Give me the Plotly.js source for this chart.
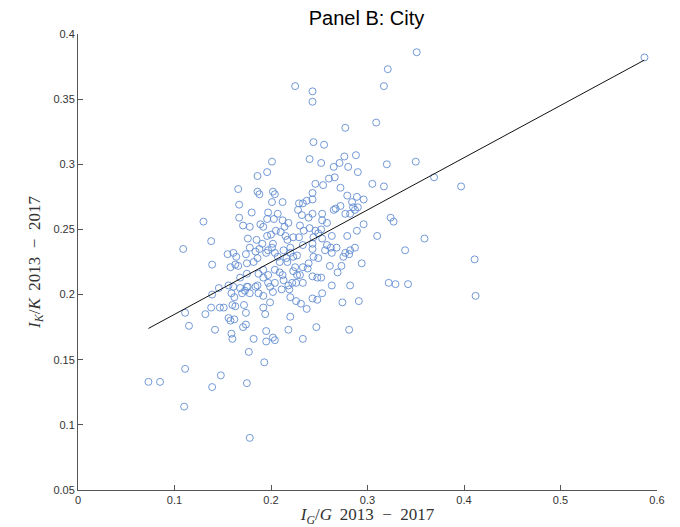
<!DOCTYPE html>
<html>
<head>
<meta charset="utf-8">
<script src="https://cdn.plot.ly/plotly-3.0.1.min.js"></script>
<style>html,body{margin:0;padding:0;background:#fff;}#chart{width:680px;height:527px;}</style>
</head>
<body>
<div id="chart"></div>
<script>
// I_G / G 2013-2017 (x) and I_K / K 2013-2017 (y), one entry per city
const igG = [
0.587,0.351,0.321,0.317,0.225,0.243,0.243,0.309,0.277,0.244,0.255,0.276,0.288,0.240,0.252,0.265,0.271,0.280,0.290,0.320,
0.350,0.201,0.196,0.186,0.369,0.397,0.317,0.305,0.246,0.254,0.260,0.266,0.272,0.166,0.186,0.188,0.202,0.204,0.201,0.212,
0.229,0.233,0.237,0.243,0.243,0.167,0.279,0.289,0.296,0.284,0.267,0.272,0.285,0.290,0.253,0.265,0.277,0.282,0.287,0.324,
0.327,0.296,0.180,0.167,0.171,0.178,0.189,0.192,0.196,0.207,0.212,0.218,0.197,0.228,0.232,0.239,0.243,0.253,0.258,0.130,
0.138,0.109,0.205,0.210,0.230,0.240,0.246,0.249,0.263,0.279,0.289,0.310,0.359,0.196,0.202,0.217,0.223,0.213,0.233,0.243,
0.253,0.258,0.268,0.287,0.176,0.185,0.178,0.184,0.191,0.195,0.155,0.161,0.164,0.174,0.197,0.201,0.204,0.220,0.227,0.243,
0.244,0.256,0.262,0.263,0.277,0.282,0.339,0.411,0.281,0.294,0.275,0.203,0.214,0.188,0.207,0.200,0.215,0.229,0.234,0.244,
0.252,0.249,0.220,0.216,0.186,0.175,0.166,0.158,0.139,0.163,0.168,0.175,0.182,0.187,0.192,0.197,0.209,0.217,0.223,0.273,
0.269,0.261,0.239,0.233,0.225,0.223,0.227,0.230,0.222,0.226,0.212,0.209,0.204,0.192,0.197,0.199,0.204,0.202,0.156,0.161,
0.173,0.176,0.186,0.187,0.213,0.218,0.233,0.238,0.243,0.248,0.252,0.253,0.263,0.274,0.282,0.322,0.329,0.342,0.291,0.412,
0.281,0.139,0.146,0.159,0.162,0.168,0.170,0.175,0.178,0.184,0.192,0.172,0.192,0.194,0.199,0.219,0.220,0.226,0.231,0.237,
0.243,0.248,0.211,0.111,0.115,0.132,0.138,0.147,0.151,0.160,0.156,0.162,0.174,0.174,0.220,0.218,0.247,0.142,0.159,0.160,
0.171,0.182,0.195,0.195,0.202,0.204,0.233,0.177,0.193,0.175,0.139,0.148,0.111,0.073,0.085,0.110,0.178,0.158,0.163
];
const ikK = [
0.382,0.386,0.373,0.360,0.360,0.356,0.348,0.332,0.328,0.317,0.315,0.306,0.307,0.304,0.301,0.298,0.301,0.298,0.294,0.300,
0.302,0.302,0.294,0.291,0.290,0.283,0.283,0.285,0.285,0.284,0.289,0.290,0.282,0.281,0.279,0.277,0.279,0.277,0.271,0.271,
0.270,0.270,0.272,0.273,0.278,0.269,0.276,0.275,0.273,0.271,0.266,0.268,0.267,0.267,0.262,0.265,0.262,0.262,0.265,0.259,
0.256,0.254,0.263,0.259,0.253,0.252,0.254,0.252,0.258,0.262,0.257,0.255,0.263,0.265,0.261,0.259,0.262,0.257,0.255,0.256,
0.241,0.235,0.249,0.248,0.253,0.251,0.249,0.247,0.245,0.245,0.249,0.245,0.243,0.245,0.239,0.242,0.244,0.234,0.238,0.239,
0.243,0.238,0.236,0.236,0.243,0.242,0.236,0.233,0.239,0.232,0.231,0.232,0.229,0.231,0.234,0.236,0.232,0.232,0.230,0.235,
0.229,0.234,0.236,0.232,0.232,0.234,0.234,0.227,0.231,0.224,0.229,0.258,0.252,0.235,0.229,0.246,0.245,0.244,0.249,0.244,
0.250,0.228,0.236,0.228,0.228,0.224,0.222,0.221,0.223,0.223,0.213,0.216,0.225,0.216,0.219,0.215,0.225,0.225,0.229,0.222,
0.217,0.222,0.224,0.221,0.221,0.218,0.215,0.215,0.209,0.209,0.215,0.217,0.219,0.213,0.209,0.206,0.209,0.202,0.207,0.206,
0.203,0.206,0.207,0.201,0.211,0.207,0.209,0.220,0.214,0.213,0.213,0.201,0.207,0.194,0.207,0.209,0.208,0.208,0.195,0.199,
0.173,0.200,0.205,0.201,0.198,0.205,0.201,0.206,0.201,0.206,0.199,0.192,0.190,0.185,0.194,0.204,0.198,0.195,0.193,0.189,
0.197,0.196,0.204,0.186,0.176,0.185,0.190,0.190,0.190,0.192,0.182,0.181,0.186,0.177,0.183,0.173,0.175,0.173,0.170,0.166,
0.175,0.166,0.172,0.164,0.167,0.165,0.166,0.156,0.148,0.132,0.129,0.138,0.143,0.133,0.133,0.114,0.090,0.180,0.191
];
// fitted line end points
const fitX = [0.073, 0.587];
const fitY = [0.174, 0.380];
const xTicks = [0, 0.1, 0.2, 0.3, 0.4, 0.5, 0.6];
const yTicks = [0.05, 0.1, 0.15, 0.2, 0.25, 0.3, 0.35, 0.4];

const traces = [
  {
    x: igG, y: ikK, type: 'scatter', mode: 'markers',
    marker: {symbol: 'circle-open', size: 7, color: '#5a86cf', line: {width: 0.85, color: '#5a86cf'}},
    hoverinfo: 'none', showlegend: false
  },
  {
    x: fitX, y: fitY, type: 'scatter', mode: 'lines',
    line: {color: '#111', width: 1}, hoverinfo: 'none', showlegend: false
  }
];

const axisCommon = {
  showgrid: false, zeroline: false, showline: true, linecolor: '#555', linewidth: 1,
  ticks: 'inside', ticklen: 5, tickcolor: '#555', tickwidth: 1,
  tickfont: {family: 'Liberation Sans, Arial, sans-serif', size: 11, color: '#333'},
  automargin: false, mirror: false
};

const titleFont = {family: 'Liberation Serif, DejaVu Serif, serif', size: 17, color: '#333'};

const layout = {
  width: 680, height: 527,
  margin: {l: 78, r: 23, t: 34, b: 37},
  paper_bgcolor: '#fff', plot_bgcolor: '#fff',
  title: {text: 'Panel B: City', x: 0.539, xanchor: 'center', y: 0.966, yanchor: 'middle',
          font: {family: 'Liberation Sans, Arial, sans-serif', size: 20, color: '#000'}},
  xaxis: Object.assign({}, axisCommon, {
    range: [0, 0.6], tickvals: xTicks, ticktext: xTicks.map(String),
    title: {text: '<i>I</i><sub><i>G</i></sub>/<i>G</i>\u2009 2013\u2002−\u20022017', standoff: 4, font: titleFont}
  }),
  yaxis: Object.assign({}, axisCommon, {
    range: [0.05, 0.4], tickvals: yTicks, ticktext: yTicks.map(String),
    title: {text: '<i>I</i><sub><i>K</i></sub>/<i>K</i>\u2009 2013\u2002−\u20022017', standoff: 8, font: titleFont}
  })
};

Plotly.newPlot('chart', traces, layout, {staticPlot: true, displayModeBar: false});
</script>
</body>
</html>
